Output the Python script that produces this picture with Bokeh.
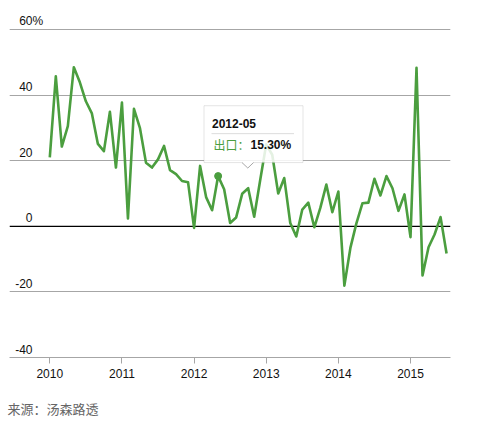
from bokeh.plotting import figure
from bokeh.models import Range1d, FixedTicker, Grid, Span, Label, BoxAnnotation, PolyAnnotation, Title
from bokeh.embed import file_html
from bokeh.resources import INLINE

# ---------------- data ----------------
start_year = 2010
exports = [21.0, 45.7, 24.3, 30.5, 48.5, 43.9, 38.1, 34.4, 25.1, 22.9, 34.9, 17.9,
           37.7, 2.4, 35.8, 29.9, 19.4, 17.9, 20.4, 24.5, 17.1, 15.9, 13.8, 13.4,
           -0.5, 18.4, 8.9, 4.9, 15.3, 11.3, 1.0, 2.7, 9.9, 11.6, 2.9, 14.1,
           25.0, 21.8, 10.0, 14.7, 1.0, -3.1, 5.1, 7.2, -0.3, 5.6, 12.7, 4.3,
           10.6, -18.1, -6.6, 0.9, 7.0, 7.2, 14.5, 9.4, 15.3, 11.6, 4.7, 9.7,
           -3.3, 48.3, -15.0, -6.4, -2.5, 2.8, -8.3]
months = ["%d-%02d" % (start_year + i // 12, i % 12 + 1) for i in range(len(exports))]
x_vals = [start_year + i / 12 for i in range(len(exports))]
series_name = "出口"
x_ticks = [2010, 2011, 2012, 2013, 2014, 2015]
x_tick_labels = ["2010", "2011", "2012", "2013", "2014", "2015"]
y_ticks = [-40, -20, 0, 20, 40, 60]
y_tick_labels = ["-40", "-20", "0", "20", "40", "60"]
highlight = "2012-05"
source_text = "来源：汤森路透"

# ---------------- layout (page pixels) ----------------
GREEN = "#4b9e3f"
GRID = "#a6a6a6"
FONT = "Liberation Sans"
CJK = "Noto Sans CJK SC"

W, H = 470, 438
frame_left_pg, frame_w = 9, 441
frame_top_pg, frame_bottom_pg = 14, 358
ppu = 329.0 / 100.0          # pixels per percent
px_per_year = 72.14
x0 = 2010 - (49.3 - frame_left_pg) / px_per_year
x1 = x0 + frame_w / px_per_year
y0 = -40
y1 = y0 + (frame_bottom_pg - frame_top_pg) / ppu


def px_to_x(px):
    return x0 + (px - frame_left_pg) / px_per_year


def px_to_y(py):
    return y0 + (frame_bottom_pg - py) / ppu


p = figure(width=W, height=H, output_backend="svg", toolbar_location=None,
           x_range=Range1d(x0, x1), y_range=Range1d(y0, y1),
           y_axis_location=None, min_border_left=frame_left_pg,
           min_border_right=W - frame_left_pg - frame_w,
           min_border_top=frame_top_pg,
           min_border_bottom=H - frame_bottom_pg)
p.title.visible = False
p.outline_line_color = None
p.background_fill_color = "white"
p.border_fill_color = "white"
p.xgrid.visible = False

# x axis
ax = p.xaxis[0]
ax.ticker = FixedTicker(ticks=x_ticks)
ax.major_label_overrides = {t: l for t, l in zip(x_ticks, x_tick_labels)}
ax.axis_line_color = GRID
ax.major_tick_line_color = GRID
ax.minor_tick_line_color = None
ax.major_tick_in = 0
ax.major_tick_out = 6
ax.major_label_standoff = 5
ax.major_label_text_font = FONT
ax.major_label_text_font_size = "12px"
ax.major_label_text_color = "#111111"

# y grid
p.add_layout(Grid(dimension=1, ticker=FixedTicker(ticks=[t for t in y_ticks if t not in (0, -40)]),
                  grid_line_color=GRID, grid_line_width=1))
p.add_layout(Span(location=0, dimension="width", line_color="black", line_width=1.2,
                  level="underlay"))

# y labels (sit above their grid lines)
lab_lift = 8.5 / ppu
for t, lab in zip(y_ticks, y_tick_labels):
    p.add_layout(Label(x=px_to_x(32), y=t + lab_lift, text=lab,
                       text_align="right", text_baseline="middle",
                       text_font=FONT, text_font_size="12px", text_color="#111111"))
    if t == y_ticks[-1]:
        p.add_layout(Label(x=px_to_x(32), y=t + lab_lift, text="%",
                           text_align="left", text_baseline="middle",
                           text_font=FONT, text_font_size="12px", text_color="#111111"))

# series line
p.line(x_vals, exports, line_width=2.6, line_color=GREEN, line_join="round")

# highlighted point
hi = months.index(highlight)
p.scatter([x_vals[hi]], [exports[hi]], size=7, fill_color=GREEN, line_color=GREEN)

# tooltip
p.add_layout(BoxAnnotation(left=px_to_x(203.5), right=px_to_x(302.5),
                           top=px_to_y(105.5), bottom=px_to_y(162.5),
                           fill_color="white", fill_alpha=0.85,
                           line_color="#a8a8a8", line_width=1))
p.add_layout(PolyAnnotation(xs=[px_to_x(241.5), px_to_x(253), px_to_x(247.3)],
                            ys=[px_to_y(162), px_to_y(162), px_to_y(168)],
                            fill_color="white", fill_alpha=1, line_color=None))
p.line([px_to_x(241.5), px_to_x(247.3), px_to_x(253)],
       [px_to_y(162.5), px_to_y(168), px_to_y(162.5)],
       line_color="#a8a8a8", line_width=1, level="overlay")
p.line([px_to_x(211), px_to_x(293.5)], [px_to_y(133.5), px_to_y(133.5)],
       line_color="#dddddd", line_width=1, level="overlay")
p.add_layout(Label(x=px_to_x(211.5), y=px_to_y(123), text=months[hi],
                   text_align="left", text_baseline="middle", text_font=FONT,
                   text_font_size="12px", text_font_style="bold", text_color="#111111"))
p.add_layout(Label(x=px_to_x(213), y=px_to_y(144.5), text=series_name + "：",
                   text_align="left", text_baseline="middle", text_font=CJK,
                   text_font_size="12px", text_color=GREEN))
p.add_layout(Label(x=px_to_x(250), y=px_to_y(144.5), text="%.2f%%" % exports[hi],
                   text_align="left", text_baseline="middle", text_font=FONT,
                   text_font_size="12px", text_font_style="bold", text_color="#111111"))

# source
p.add_layout(Title(text=source_text, align="left", offset=-2, standoff=37,
                   vertical_align="top",
                   text_font=CJK, text_font_size="13px", text_font_style="normal",
                   text_color="#666666"), "below")

open("out.html", "w").write(file_html(p, INLINE))
